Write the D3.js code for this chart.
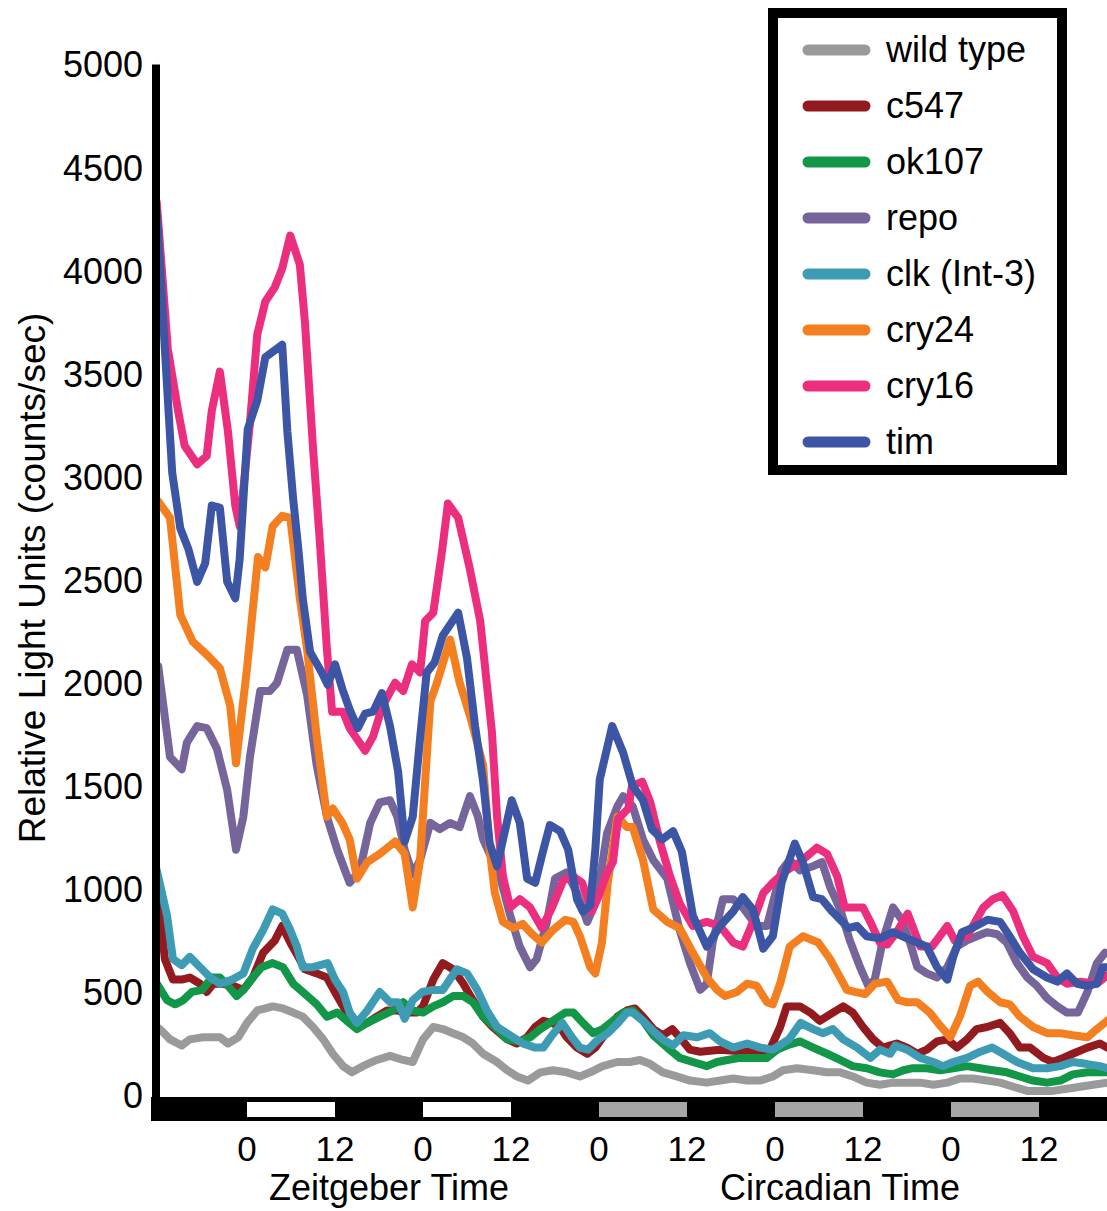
<!DOCTYPE html>
<html>
<head>
<meta charset="utf-8">
<script src="https://cdn.jsdelivr.net/npm/d3@7"></script>
<style>
  body { margin: 0; background: #fff; }
  svg { display: block; font-family: "Liberation Sans", Arial, sans-serif; }
</style>
</head>
<body>
<div id="chart"></div>
<script>
/* luminescence traces, hours from ZT0 of the first LD day, value in counts/sec */

const seriesNames = ['wild type', 'c547', 'ok107', 'repo', 'clk (Int-3)', 'cry24', 'cry16', 'tim'];

const wildType = [[-12.3,330],[-11.9,320],[-10.5,270],[-8.9,240],[-7.8,270],[-6.0,280],[-4.8,280],[-3.7,280],[-2.6,250],[-1.2,280],[0.0,350],[1.4,410],[2.5,420],[3.5,430],[4.9,420],[6.3,400],[7.6,380],[9.0,330],[10.4,270],[11.7,200],[13.1,140],[14.3,110],[15.8,140],[17.7,170],[19.5,190],[21.3,170],[22.6,160],[24.0,270],[25.4,330],[26.7,320],[28.1,300],[29.5,280],[30.8,250],[32.2,200],[34.1,160],[35.5,120],[36.8,90],[38.3,70],[40.0,110],[41.7,120],[43.6,110],[45.4,90],[46.8,110],[48.5,140],[50.5,160],[52.2,160],[53.6,170],[55.0,150],[56.7,110],[58.6,90],[60.4,70],[62.7,60],[64.5,70],[66.3,80],[68.2,70],[70.0,70],[71.7,90],[73.1,120],[75.0,130],[77.2,120],[79.1,110],[80.9,110],[82.6,90],[84.5,60],[86.3,50],[88.1,60],[90.0,60],[91.8,60],[93.6,50],[95.5,60],[97.2,80],[99.0,80],[100.9,70],[102.7,60],[104.5,40],[106.4,20],[108.1,20],[109.9,20],[111.8,30],[113.6,40],[115.4,50],[117.3,60]];

const c547 = [[-12.3,970],[-11.9,900],[-11.2,660],[-10.1,560],[-8.9,560],[-7.8,570],[-6.4,540],[-5.5,500],[-4.6,540],[-3.3,540],[-1.9,530],[-0.5,510],[0.8,570],[2.2,690],[3.8,750],[4.8,820],[5.9,740],[7.0,670],[7.9,610],[9.5,590],[10.9,570],[12.3,480],[13.6,400],[15.0,330],[16.4,350],[17.7,380],[19.1,410],[20.5,410],[21.8,400],[23.2,400],[24.0,430],[25.4,560],[26.7,640],[28.1,610],[29.5,540],[30.8,460],[32.2,380],[33.5,330],[35.5,270],[36.8,250],[38.2,280],[39.3,330],[40.4,360],[41.6,350],[42.7,330],[43.6,280],[45.0,230],[46.4,200],[47.5,230],[49.1,310],[50.5,380],[51.8,410],[52.9,420],[54.0,380],[55.4,320],[56.7,290],[58.0,320],[59.0,280],[60.4,220],[61.8,210],[64.5,220],[68.2,210],[71.3,220],[72.7,330],[73.6,430],[75.4,430],[76.8,400],[78.1,360],[79.9,400],[81.3,430],[82.6,400],[84.0,330],[85.4,270],[86.7,230],[88.6,250],[90.0,230],[91.4,200],[92.7,220],[94.1,260],[95.5,270],[96.8,230],[98.2,270],[99.5,320],[100.9,330],[102.7,350],[104.0,300],[105.4,230],[106.8,230],[108.6,180],[109.9,160],[111.3,180],[112.6,200],[114.6,230],[116.3,250],[117.3,230]];

const ok107 = [[-12.3,540],[-10.9,460],[-9.8,440],[-8.7,460],[-7.5,500],[-6.1,510],[-4.8,570],[-3.7,570],[-2.6,530],[-1.4,480],[-0.5,510],[0.8,570],[2.0,620],[3.5,640],[4.9,620],[6.3,540],[7.6,500],[9.5,440],[10.9,380],[12.3,400],[13.6,360],[15.0,320],[16.4,350],[18.1,380],[19.9,410],[21.3,450],[22.6,410],[24.0,400],[25.4,430],[26.7,450],[28.1,480],[29.5,480],[30.8,450],[32.2,380],[34.1,320],[35.5,270],[37.2,260],[38.6,280],[40.0,320],[41.7,360],[43.4,400],[44.5,400],[45.8,350],[47.2,300],[48.5,320],[49.9,360],[51.3,400],[52.6,410],[54.0,360],[55.4,290],[57.3,230],[59.0,180],[60.8,160],[62.7,140],[64.1,160],[65.5,170],[67.2,180],[69.0,180],[70.9,180],[72.3,220],[73.6,240],[75.4,260],[77.2,230],[79.1,200],[80.9,170],[82.6,140],[84.5,130],[86.3,110],[88.1,100],[89.5,120],[90.8,130],[92.7,130],[94.5,120],[96.3,130],[98.2,140],[100.0,130],[101.7,120],[103.6,110],[105.4,90],[107.2,70],[109.1,60],[110.9,70],[112.6,100],[114.6,110],[116.3,110],[117.3,110]];

const repo = [[-12.1,2080],[-10.5,1640],[-8.9,1580],[-8.2,1710],[-6.8,1790],[-5.5,1780],[-4.1,1680],[-2.7,1480],[-1.5,1190],[-0.5,1350],[0.4,1640],[1.8,1960],[3.1,1960],[4.1,2000],[5.5,2160],[6.8,2160],[8.2,1940],[9.5,1600],[10.9,1350],[12.3,1190],[14.0,1030],[15.4,1090],[16.8,1320],[18.1,1420],[19.5,1430],[20.5,1350],[21.5,1190],[22.6,1070],[23.6,1140],[25.0,1320],[26.3,1290],[27.7,1320],[29.0,1300],[30.4,1450],[31.5,1350],[32.2,1240],[34.5,1060],[35.9,870],[37.2,720],[38.6,620],[39.5,660],[40.9,840],[42.0,1050],[43.6,1080],[45.0,980],[46.4,840],[47.7,950],[49.1,1270],[50.5,1400],[51.3,1450],[52.6,1400],[54.0,1240],[55.4,1140],[57.3,1050],[59.0,800],[60.4,640],[61.8,510],[62.7,540],[63.5,740],[64.9,950],[66.3,950],[67.6,910],[69.5,820],[70.9,820],[71.7,930],[72.9,1090],[74.0,1140],[75.4,1090],[77.2,1110],[78.4,1130],[79.5,1010],[80.9,900],[82.2,750],[83.6,620],[84.7,530],[85.6,560],[86.7,750],[88.1,910],[89.3,850],[90.4,740],[91.4,620],[92.7,590],[94.1,570],[95.5,620],[96.8,720],[98.2,750],[99.5,770],[100.9,790],[102.3,780],[103.6,740],[105.0,640],[106.4,570],[107.7,530],[109.1,470],[110.5,430],[111.8,400],[113.3,400],[114.6,500],[115.9,640],[117.0,690]];

const clk = [[-12.3,1090],[-10.9,870],[-10.1,660],[-8.9,630],[-7.8,670],[-6.4,620],[-5.0,570],[-3.7,540],[-2.0,560],[-0.5,590],[0.8,710],[2.2,800],[3.5,900],[4.8,880],[5.9,800],[6.8,720],[7.6,620],[9.0,620],[11.0,640],[12.0,560],[13.1,500],[14.0,400],[15.0,350],[16.4,410],[18.1,500],[19.5,450],[20.6,450],[21.5,370],[22.6,460],[23.9,500],[25.4,510],[26.7,510],[28.6,610],[30.0,590],[31.4,510],[32.7,410],[34.1,330],[36.3,280],[37.6,250],[39.3,230],[40.4,230],[41.6,290],[43.0,350],[44.3,280],[45.4,230],[46.5,220],[47.9,270],[49.2,300],[50.6,350],[51.8,400],[52.6,400],[54.0,360],[55.4,310],[56.7,270],[58.1,240],[59.5,290],[61.4,280],[63.1,300],[64.5,260],[66.3,230],[68.2,250],[70.0,230],[71.7,220],[73.9,270],[75.5,350],[77.2,320],[78.5,300],[79.9,320],[81.3,270],[83.2,230],[85.0,180],[86.3,220],[87.7,200],[88.4,240],[90.0,220],[91.8,180],[93.6,160],[94.9,140],[96.3,160],[98.2,180],[100.0,210],[101.6,230],[103.1,200],[105.0,160],[107.2,130],[109.1,130],[110.9,140],[112.6,160],[114.6,150],[116.3,140],[117.3,130]];

const cry24 = [[-12.1,2880],[-10.5,2800],[-9.1,2330],[-7.4,2200],[-5.3,2130],[-3.7,2070],[-2.3,1890],[-1.5,1610],[0.0,2070],[1.5,2610],[2.5,2560],[3.5,2760],[4.8,2810],[5.9,2800],[7.2,2410],[8.2,2160],[9.5,1740],[10.9,1350],[11.7,1390],[13.0,1320],[14.0,1240],[15.0,1050],[16.4,1130],[18.1,1170],[20.2,1230],[21.5,1170],[22.6,910],[23.6,1140],[25.0,1910],[25.9,2000],[27.7,2210],[29.0,2000],[30.4,1840],[32.2,1600],[33.1,1190],[33.8,980],[34.9,840],[36.3,810],[37.6,830],[38.9,780],[40.2,740],[41.7,800],[43.4,850],[44.5,840],[45.4,770],[46.8,620],[47.5,590],[48.4,740],[49.2,1030],[50.5,1350],[51.8,1300],[52.6,1300],[54.0,1140],[55.4,900],[57.3,840],[59.0,810],[60.8,690],[62.7,570],[64.1,510],[65.2,480],[66.8,500],[68.2,540],[69.5,530],[70.9,450],[71.7,440],[72.7,540],[74.0,720],[75.8,770],[77.9,740],[79.5,660],[81.8,510],[82.9,500],[84.3,490],[85.6,540],[87.3,550],[88.8,460],[90.0,450],[91.4,450],[93.1,400],[94.2,350],[95.9,280],[97.2,380],[98.6,530],[99.7,550],[101.0,500],[102.7,450],[104.0,440],[105.4,380],[107.2,330],[109.1,300],[110.9,300],[112.6,290],[114.6,280],[115.9,320],[117.3,360]];

const cry16 = [[-12.3,4330],[-10.8,3620],[-9.4,3320],[-8.5,3150],[-6.8,3060],[-5.5,3100],[-4.8,3320],[-3.7,3510],[-2.6,3220],[-1.6,2860],[-1.0,2760],[0.4,3260],[1.4,3690],[2.5,3850],[3.8,3920],[4.8,4010],[5.9,4170],[7.2,4030],[7.9,3750],[9.0,3140],[10.0,2650],[10.9,2160],[11.6,1860],[13.1,1860],[14.0,1780],[16.1,1670],[17.2,1740],[18.5,1890],[20.2,2000],[21.3,1960],[22.5,2090],[23.6,2050],[24.3,2300],[25.4,2340],[26.6,2640],[27.4,2870],[28.8,2800],[30.4,2550],[31.8,2300],[33.4,1760],[34.1,1350],[34.9,1060],[35.9,910],[37.2,950],[38.6,910],[40.2,810],[41.6,910],[43.1,1040],[44.5,1060],[45.7,1030],[47.0,890],[47.9,960],[49.1,1080],[49.9,1130],[50.6,1340],[52.0,1390],[52.5,1500],[53.9,1520],[55.0,1420],[56.3,1230],[57.7,1060],[59.0,930],[60.8,820],[62.7,840],[64.5,820],[66.3,740],[67.6,720],[69.0,840],[70.4,980],[71.7,1030],[73.6,1090],[75.4,1130],[77.7,1200],[79.1,1170],[80.5,1060],[81.5,910],[84.0,910],[85.0,840],[86.3,740],[87.3,730],[88.6,790],[90.1,880],[91.8,720],[93.4,720],[95.5,820],[96.5,750],[98.2,770],[100.4,910],[101.7,950],[103.0,970],[104.5,890],[105.8,770],[107.2,670],[109.1,640],[110.5,570],[111.8,540],[113.6,550],[115.9,540],[117.3,580]];

const tim = [[-12.3,4290],[-11.2,3620],[-10.2,3020],[-9.1,2750],[-8.0,2650],[-6.8,2490],[-5.7,2580],[-4.8,2860],[-3.7,2850],[-2.7,2490],[-1.6,2410],[-1.0,2600],[0.1,3230],[1.4,3370],[2.5,3580],[4.8,3640],[5.5,3220],[6.3,2890],[7.0,2650],[7.6,2410],[8.6,2150],[10.2,2050],[11.0,1990],[12.0,2090],[13.0,1970],[14.0,1870],[15.1,1780],[16.1,1850],[17.2,1860],[18.4,1950],[19.5,1790],[20.6,1570],[21.5,1230],[22.6,1350],[23.6,1730],[24.5,2050],[25.6,2100],[26.7,2230],[28.8,2340],[30.0,2120],[31.1,1790],[32.2,1520],[33.1,1220],[34.1,1110],[36.1,1430],[37.2,1320],[38.2,1050],[39.3,1030],[40.2,1160],[41.3,1310],[42.7,1280],[43.8,1190],[45.0,950],[45.8,890],[46.8,920],[47.5,1190],[48.1,1530],[49.8,1790],[51.3,1660],[52.6,1500],[54.0,1430],[55.2,1290],[56.6,1240],[58.1,1280],[59.3,1180],[60.8,870],[62.7,720],[64.5,820],[66.3,890],[67.6,960],[69.0,900],[70.4,710],[71.7,770],[72.9,1030],[74.7,1220],[75.8,1130],[77.2,960],[78.4,950],[79.8,890],[80.9,850],[82.0,810],[83.2,820],[84.5,770],[86.3,760],[88.1,790],[90.0,760],[91.4,740],[92.7,720],[94.1,620],[95.5,560],[96.3,670],[97.5,790],[98.9,810],[101.0,850],[102.7,840],[104.0,770],[105.4,690],[107.2,610],[109.1,570],[110.5,550],[111.8,590],[113.2,540],[114.6,530],[115.9,540],[116.7,620],[117.3,620]];

const seriesData = [wildType, c547, ok107, repo, clk, cry24, cry16, tim];
const seriesColors = ['#9a9a9a', '#931b1f', '#129648', '#75659a', '#3d9bb4', '#f47f20', '#ec2e7f', '#3c55a5'];

// y ticks and x ticks
const yTicks = [0, 500, 1000, 1500, 2000, 2500, 3000, 3500, 4000, 4500, 5000];
const xTickHours = [0, 12, 24, 36, 48, 60, 72, 84, 96, 108];
const xTickLabels = ['0', '12', '0', '12', '0', '12', '0', '12', '0', '12'];
// light phases on the bar: [start h, end h, kind]
const phaseBlocks = [[-12.5, 0, 'dark'], [0, 12, 'light'], [12, 24, 'dark'], [24, 36, 'light'], [36, 48, 'dark'],
  [48, 60, 'subjective'], [60, 72, 'dark'], [72, 84, 'subjective'], [84, 96, 'dark'], [96, 108, 'subjective'], [108, 118, 'dark']];
const phaseColors = { dark: '#0e0e0e', light: '#ffffff', subjective: '#a6a6a6' };

const W = 1107, H = 1211;
const svg = d3.select('#chart').append('svg').attr('width', W).attr('height', H);

const xScale = d3.scaleLinear().domain([0, 12]).range([247, 335]);
const yScale = d3.scaleLinear().domain([0, 5000]).range([1095, 64.5]);

svg.append('defs').append('clipPath').attr('id', 'plotclip')
  .append('rect').attr('x', 156).attr('y', 0).attr('width', W - 156).attr('height', 1097);

const line = d3.line()
  .x(d => xScale(d[0]))
  .y(d => yScale(d[1]));

// traces
const g = svg.append('g').attr('clip-path', 'url(#plotclip)');
seriesData.forEach((s, i) => {
  g.append('path')
    .datum(s)
    .attr('fill', 'none')
    .attr('stroke', seriesColors[i])
    .attr('stroke-width', 8)
    .attr('stroke-linejoin', 'round')
    .attr('stroke-linecap', 'round')
    .attr('d', line);
});

// bottom light/dark bar
svg.append('rect')
  .attr('x', 151).attr('y', 1097).attr('width', W - 151).attr('height', 24)
  .attr('fill', '#000');
svg.selectAll('.phase')
  .data(phaseBlocks.filter(d => d[2] != 'dark'))
  .enter().append('rect')
  .attr('x', d => xScale(d[0]))
  .attr('y', 1102)
  .attr('width', d => xScale(d[1]) - xScale(d[0]))
  .attr('height', 15)
  .attr('fill', d => phaseColors[d[2]]);

// y axis line
svg.append('rect')
  .attr('x', 152).attr('y', yScale(5000)).attr('width', 8).attr('height', 1121 - yScale(5000))
  .attr('fill', '#000');

// y tick labels
svg.selectAll('.ytick')
  .data(yTicks)
  .enter().append('text')
  .attr('x', 143)
  .attr('y', d => yScale(d))
  .attr('dy', '0.36em')
  .attr('text-anchor', 'end')
  .style('font-size', '36px')
  .text(d => d);

// x tick labels
svg.selectAll('.xtick')
  .data(xTickHours)
  .enter().append('text')
  .attr('x', d => xScale(d))
  .attr('y', 1161)
  .attr('text-anchor', 'middle')
  .style('font-size', '35px')
  .text((d, i) => xTickLabels[i]);

// axis titles
svg.append('text')
  .attr('x', 389).attr('y', 1200)
  .attr('text-anchor', 'middle')
  .style('font-size', '36px')
  .text('Zeitgeber Time');
svg.append('text')
  .attr('x', 840).attr('y', 1200)
  .attr('text-anchor', 'middle')
  .style('font-size', '36px')
  .text('Circadian Time');
svg.append('text')
  .attr('transform', 'translate(45,578) rotate(-90)')
  .attr('text-anchor', 'middle')
  .style('font-size', '37px')
  .text('Relative Light Units (counts/sec)');

// legend
const legend = svg.append('g');
legend.append('rect')
  .attr('x', 773).attr('y', 13).attr('width', 289).attr('height', 457)
  .attr('fill', '#fff').attr('stroke', '#000').attr('stroke-width', 10);
seriesNames.forEach((name, i) => {
  const ly = 50 + i * 56;
  legend.append('line')
    .attr('x1', 808).attr('x2', 865).attr('y1', ly).attr('y2', ly)
    .attr('stroke', seriesColors[i]).attr('stroke-width', 11).attr('stroke-linecap', 'round');
  legend.append('text')
    .attr('x', 886).attr('y', ly)
    .attr('dy', '0.33em')
    .style('font-size', '36px')
    .text(name);
});
</script>
</body>
</html>
